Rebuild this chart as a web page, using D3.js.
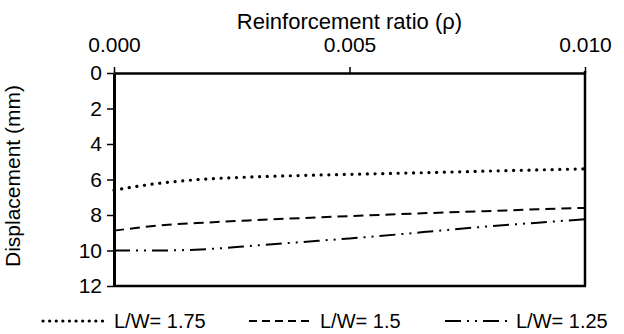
<!DOCTYPE html>
<html>
<head>
<meta charset="utf-8">
<script src="https://cdn.jsdelivr.net/npm/d3@7"></script>
<style>
  body { margin: 0; background: #fff; }
  text { font-family: "Liberation Sans", Arial, sans-serif; fill: #000; }
</style>
</head>
<body>
<script>
// data
var ratio = [0, 0.001, 0.002, 0.003, 0.004, 0.005, 0.006, 0.007, 0.008, 0.009, 0.010];
var lw175 = [6.6, 6.2, 5.97, 5.85, 5.77, 5.71, 5.65, 5.59, 5.52, 5.46, 5.4];
var lw150 = [8.88, 8.58, 8.42, 8.29, 8.17, 8.06, 7.96, 7.86, 7.77, 7.68, 7.6];
var lw125 = [10.0, 10.0, 9.92, 9.72, 9.52, 9.32, 9.1, 8.86, 8.63, 8.43, 8.24];
var xTicks = [0, 0.005, 0.010];
var yTicks = [0, 2, 4, 6, 8, 10, 12];
var seriesNames = ["L/W= 1.75", "L/W= 1.5", "L/W= 1.25"];

var W = 624, H = 334;
var plotL = 114, plotR = 585, plotT = 73, plotB = 286;

var svg = d3.select("body").append("svg")
    .attr("width", W)
    .attr("height", H);

var x = d3.scaleLinear().domain([0, 0.010]).range([plotL, plotR]);
var y = d3.scaleLinear().domain([0, 12]).range([plotT, plotB]);

// top axis
var xAxis = svg.append("g")
    .attr("transform", "translate(0," + plotT + ")")
    .call(d3.axisTop(x).tickValues(xTicks).tickFormat(d3.format(".3f")).tickSize(6).tickPadding(15).tickSizeOuter(0));
xAxis.select(".domain").attr("stroke-width", 2.5);
xAxis.selectAll(".tick line").attr("stroke-width", 1.5);
xAxis.selectAll("text").style("font-size", "21px").attr("fill", "#000");

// left axis
var yAxis = svg.append("g")
    .attr("transform", "translate(" + plotL + ",0)")
    .call(d3.axisLeft(y).tickValues(yTicks).tickSize(7).tickPadding(5).tickSizeOuter(0));
yAxis.select(".domain").attr("stroke-width", 3);
yAxis.selectAll(".tick line").attr("stroke-width", 1.5);
yAxis.selectAll("text").style("font-size", "21px").attr("fill", "#000");

// right and bottom frame
svg.append("line").attr("x1", x(0.010)).attr("x2", x(0.010)).attr("y1", y(0) - 2).attr("y2", y(12))
    .attr("stroke", "#000").attr("stroke-width", 2.5);
svg.append("line").attr("x1", x(0)).attr("x2", x(0.010) + 1).attr("y1", y(12)).attr("y2", y(12))
    .attr("stroke", "#000").attr("stroke-width", 2.5);

// titles
svg.append("text")
    .attr("x", (plotL + plotR) / 2).attr("y", 29)
    .attr("text-anchor", "middle")
    .style("font-size", "22px")
    .text("Reinforcement ratio (\u03c1)");

svg.append("text")
    .attr("transform", "translate(20,176) rotate(-90)")
    .attr("text-anchor", "middle")
    .style("font-size", "21px")
    .text("Displacement (mm)");

// lines
var styles = [
  { data: lw175, dash: "0.1,7.6", width: 3.2, cap: "round" },
  { data: lw150, dash: "10,6", width: 2, cap: "butt" },
  { data: lw125, dash: "16,6,2,6,2,6", width: 2, cap: "butt" }
];
var legDash = ["0.1,6.5", "8,5", "16,6,2,6,2,6"];

var line = d3.line()
    .x(function(d, i) { return x(ratio[i]); })
    .y(function(d) { return y(d); })
    .curve(d3.curveMonotoneX);

styles.forEach(function(s) {
  svg.append("path")
     .datum(s.data)
     .attr("d", line)
     .attr("fill", "none")
     .attr("stroke", "#000")
     .attr("stroke-width", s.width)
     .attr("stroke-linecap", s.cap)
     .attr("stroke-dasharray", s.dash);
});

// legend
var legX = [43, 249, 445];
var legY = 321;
styles.forEach(function(s, i) {
  svg.append("line")
     .attr("x1", legX[i]).attr("x2", legX[i] + 62)
     .attr("y1", legY).attr("y2", legY)
     .attr("stroke", "#000")
     .attr("stroke-width", s.width)
     .attr("stroke-linecap", s.cap)
     .attr("stroke-dasharray", legDash[i]);
  svg.append("text")
     .attr("x", legX[i] + 71).attr("y", legY + 7)
     .style("font-size", "20px")
     .text(seriesNames[i]);
});
</script>
</body>
</html>
